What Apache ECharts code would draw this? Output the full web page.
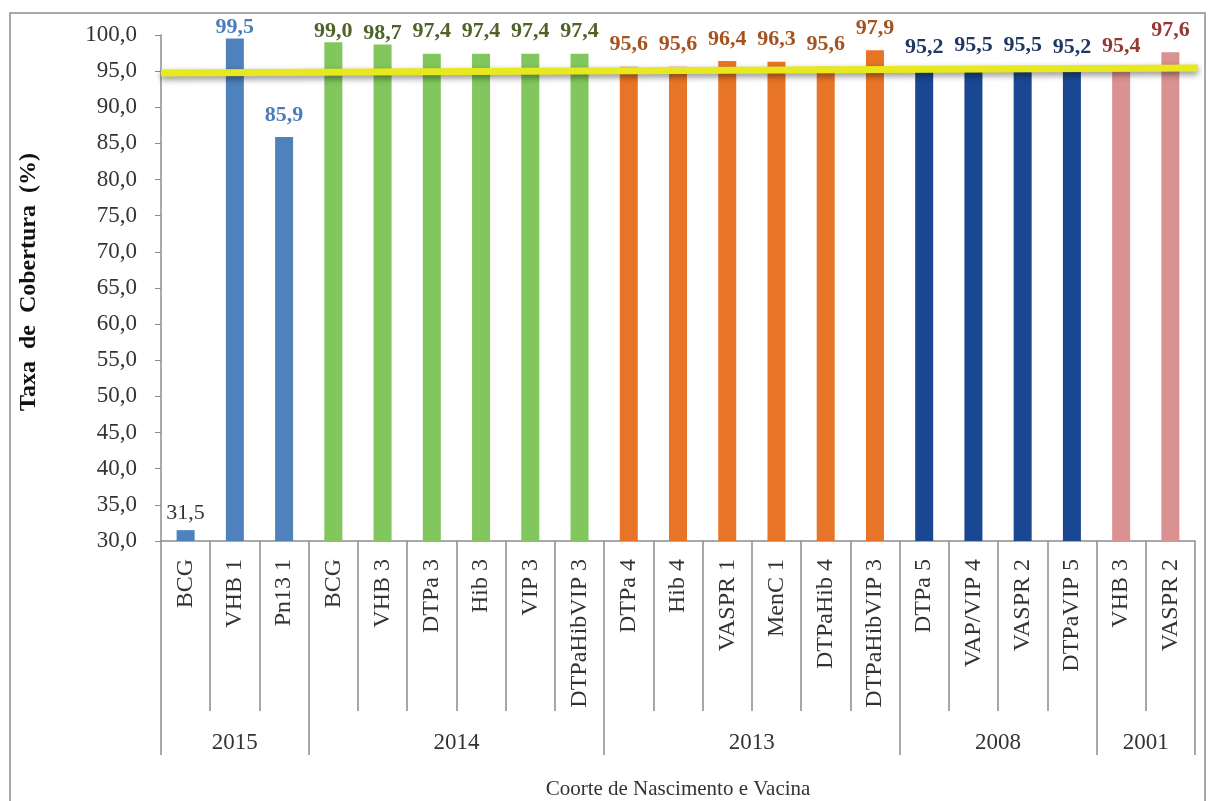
<!DOCTYPE html>
<html>
<head>
<meta charset="utf-8">
<script src="https://cdn.jsdelivr.net/npm/echarts@6/dist/echarts.min.js"></script>
<style>
  html, body { margin: 0; padding: 0; background: #fff; }
  #chart { width: 1208px; height: 801px; }
</style>
</head>
<body>
<div id="chart"></div>
<script>
// vacinas por coorte
const categories = ['BCG', 'VHB 1', 'Pn13 1', 'BCG', 'VHB 3', 'DTPa 3', 'Hib 3', 'VIP 3', 'DTPaHibVIP 3',
  'DTPa 4', 'Hib 4', 'VASPR 1', 'MenC 1', 'DTPaHib 4', 'DTPaHibVIP 3',
  'DTPa 5', 'VAP/VIP 4', 'VASPR 2', 'DTPaVIP 5', 'VHB 3', 'VASPR 2']
const values = [31.5, 99.5, 85.9, 99.0, 98.7, 97.4, 97.4, 97.4, 97.4,
  95.6, 95.6, 96.4, 96.3, 95.6, 97.9,
  95.2, 95.5, 95.5, 95.2, 95.4, 97.6]
const years = ['2015', '2014', '2013', '2008', '2001']
const yearSizes = [3, 6, 6, 4, 2]
const barColors = ['#4f81bd', '#82c65e', '#e87427', '#1a4791', '#d99192']
const labelColors = ['#4a7ebb', '#4f6228', '#a5521f', '#1f3864', '#953735']
const goalLine = [[0, 94.75], [1, 95.45]]

const fmt = v => v.toFixed(1).replace('.', ',')

// limites e meio de cada grupo de ano
let bounds = [0]
let mids = []
for (let i = 0; i < yearSizes.length; i++) {
  mids.push(bounds[i] + yearSizes[i] / 2)
  bounds.push(bounds[i] + yearSizes[i])
}
let groupOf = []
for (let g = 0; g < yearSizes.length; g++) {
  for (let k = 0; k < yearSizes[g]; k++) groupOf.push(g)
}

let barData = []
for (let i = 0; i < values.length; i++) {
  let g = groupOf[i]
  let item = {
    value: values[i],
    itemStyle: { color: barColors[g] },
    // rotulos das barras mais altas ficam colados (limite do quadro)
    label: { color: labelColors[g], distance: values[i] > 98.5 ? 0 : 11 }
  }
  if (values[i] < 50) {
    item.label = { color: '#333', fontWeight: 'normal', distance: 6 }
  }
  barData.push(item)
}

const serif = '"Liberation Serif", "DejaVu Serif", serif'

const chart = echarts.init(document.getElementById('chart'))
chart.setOption({
  animation: false,
  graphic: [{
    type: 'rect',
    shape: { x: 10, y: 13, width: 1195, height: 800 },
    style: { fill: 'none', stroke: '#8c8c8c', lineWidth: 1.5 }
  }],
  grid: [
    { left: 161, right: 13, top: 35, bottom: 260, outerBoundsMode: 'none', containLabel: false },
    { left: 161, right: 10, top: 35, bottom: 260, outerBoundsMode: 'none', containLabel: false }
  ],
  xAxis: [
    {
      type: 'category',
      gridIndex: 0,
      data: categories,
      name: 'Coorte de Nascimento e Vacina',
      nameLocation: 'middle',
      nameGap: 238,
      nameTextStyle: { fontFamily: serif, fontSize: 21, color: '#333' },
      axisLine: { lineStyle: { color: '#8c8c8c', width: 1.5 } },
      axisTick: { show: true, interval: 0, length: 170, lineStyle: { color: '#8c8c8c', width: 1.5 } },
      axisLabel: {
        interval: 0, rotate: 90, margin: 18,
        fontFamily: serif, fontSize: 24, color: '#333'
      }
    },
    {
      type: 'value',
      gridIndex: 0,
      position: 'bottom',
      min: 0, max: 21,
      axisLine: { show: false },
      splitLine: { show: false },
      axisTick: {
        show: true, length: 214, customValues: bounds,
        lineStyle: { color: '#8c8c8c', width: 1.5 }
      },
      axisLabel: {
        customValues: mids, margin: 190,
        fontFamily: serif, fontSize: 23, color: '#333',
        formatter: v => years[mids.indexOf(v)]
      }
    },
    { type: 'value', gridIndex: 1, min: 0, max: 1, show: false }
  ],
  yAxis: [
    {
      type: 'value',
      gridIndex: 0,
      min: 30, max: 100, interval: 5,
      name: '  Taxa  de  Cobertura  (%)',
      nameLocation: 'middle',
      nameGap: 120,
      nameTextStyle: { fontFamily: serif, fontSize: 24, fontWeight: 'bold', color: '#111' },
      axisLine: { show: true, lineStyle: { color: '#8c8c8c', width: 1.5 } },
      axisTick: { show: true, length: 6, lineStyle: { color: '#8c8c8c' } },
      splitLine: { show: false },
      axisLabel: {
        margin: 24, fontFamily: serif, fontSize: 23, color: '#333',
        formatter: v => fmt(v)
      }
    },
    { type: 'value', gridIndex: 1, min: 30, max: 100, show: false }
  ],
  series: [
    {
      type: 'bar',
      xAxisIndex: 0,
      yAxisIndex: 0,
      data: barData,
      barWidth: 18,
      label: {
        show: true, position: 'top',
        fontFamily: serif, fontSize: 22, fontWeight: 'bold',
        formatter: p => fmt(p.value)
      }
    },
    {
      type: 'line',
      xAxisIndex: 2,
      yAxisIndex: 1,
      data: goalLine,
      symbol: 'none',
      lineStyle: {
        color: '#e8e81e', width: 7,
        shadowColor: 'rgba(0,0,0,0.45)', shadowBlur: 6, shadowOffsetY: 3
      },
      z: 5
    }
  ]
})
</script>
</body>
</html>
